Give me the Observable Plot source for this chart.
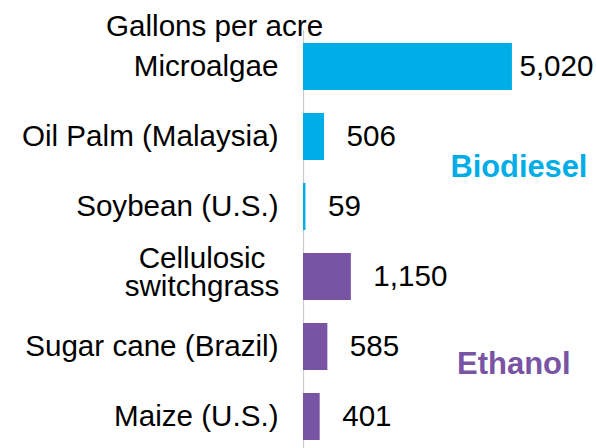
<!DOCTYPE html>
<html>
<head>
<meta charset="utf-8">
<script src="https://cdn.jsdelivr.net/npm/d3@7"></script>
<script src="https://cdn.jsdelivr.net/npm/@observablehq/plot@0.6"></script>
<style>
  html, body { margin: 0; padding: 0; background: #ffffff; }
  #chart svg { display: block; overflow: visible; }
</style>
</head>
<body>
<div id="chart"></div>
<script>
// ---- data ----
const crops = ["Microalgae", "Oil Palm (Malaysia)", "Soybean (U.S.)", "Cellulosic\nswitchgrass", "Sugar cane (Brazil)", "Maize (U.S.)"];
const gallons = [5020, 506, 59, 1150, 585, 401];
const fuel = ["Biodiesel", "Biodiesel", "Biodiesel", "Ethanol", "Ethanol", "Ethanol"];
const fuelTypes = ["Biodiesel", "Ethanol"];
const fuelColors = ["#00ADE6", "#7A54A4"];
const unitLabel = "Gallons per acre";

const rows = crops.map((c, i) => ({crop: c, gallons: gallons[i], fuel: fuel[i]}));
const maxVal = d3.max(gallons);
const font = "Liberation Sans, Arial, Helvetica, sans-serif";
const fmt = d3.format(",");
const fs = 29.6;

const chart = Plot.plot({
  width: 596,
  height: 448,
  marginTop: 30,
  marginBottom: 0,
  marginLeft: 303,
  marginRight: 0,
  style: {fontFamily: font, background: "#ffffff", overflow: "visible"},
  x: {domain: [0, 7040], axis: null},
  y: {domain: crops, range: [30, 454], paddingInner: 0.326, paddingOuter: 0.157, axis: null},
  color: {domain: fuelTypes, range: fuelColors},
  marks: [
    Plot.ruleX([0], {stroke: "#cccccc", strokeWidth: 1.2}),
    Plot.barX(rows, {x: "gallons", y: "crop", fill: "fuel"}),
    // category labels (single line)
    Plot.text(rows.filter(d => !d.crop.includes("\n")), {
      x: 0, y: "crop", text: "crop", textAnchor: "end", dx: -25,
      fontSize: fs, fill: "#000000", lineAnchor: "middle"
    }),
    // category label (two lines, centred)
    Plot.text(rows.filter(d => d.crop.includes("\n")), {
      x: 0, y: "crop", text: "crop", textAnchor: "middle", dx: -101.5, dy: -4,
      fontSize: fs, fill: "#000000", lineAnchor: "middle", lineHeight: 0.95
    }),
    // value labels
    Plot.text(rows.filter(d => d.gallons === maxVal), {
      x: "gallons", y: "crop", text: d => fmt(d.gallons), textAnchor: "start", dx: 7,
      fontSize: fs, fill: "#000000", lineAnchor: "middle"
    }),
    Plot.text(rows.filter(d => d.gallons !== maxVal), {
      x: "gallons", y: "crop", text: d => fmt(d.gallons), textAnchor: "start", dx: 22,
      fontSize: fs, fill: "#000000", lineAnchor: "middle"
    }),
    // unit title
    Plot.text([unitLabel], {
      frameAnchor: "top-left", text: d => d, textAnchor: "start", lineAnchor: "bottom",
      dx: -197.5, dy: 5, fontSize: fs, fill: "#000000"
    }),
    // group annotations
    Plot.text([fuelTypes[0]], {
      frameAnchor: "top-left", text: d => d, fill: fuelColors[0], textAnchor: "start", lineAnchor: "bottom",
      dx: 147, dy: 146, fontSize: 30.8, fontWeight: "bold"
    }),
    Plot.text([fuelTypes[1]], {
      frameAnchor: "top-left", text: d => d, fill: fuelColors[1], textAnchor: "start", lineAnchor: "bottom",
      dx: 153.5, dy: 343, fontSize: 31, fontWeight: "bold"
    })
  ]
});
document.getElementById("chart").appendChild(chart);
</script>
</body>
</html>
